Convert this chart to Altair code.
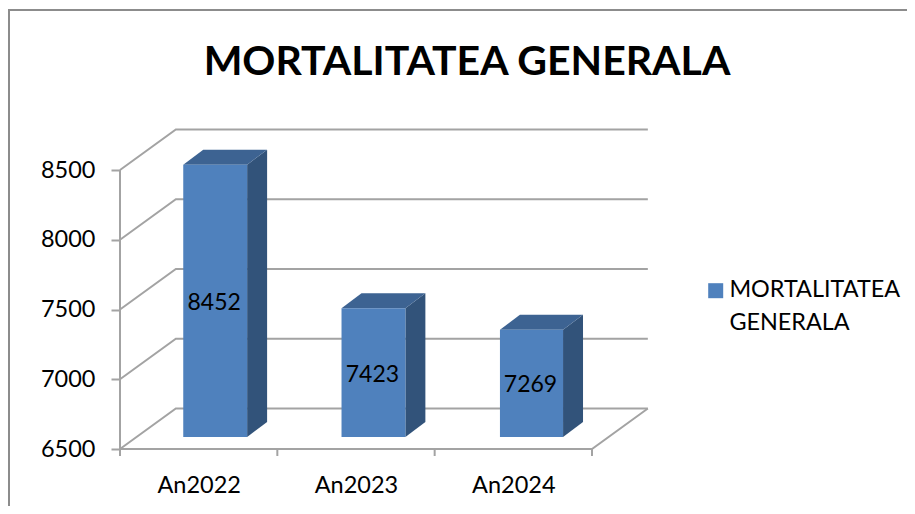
import altair as alt
import pandas as pd

categories = ["An2022", "An2023", "An2024"]
values = [8452, 7423, 7269]
series_name = "MORTALITATEA GENERALA"
y_ticks = [6500, 7000, 7500, 8000, 8500]
x_ticks = [0, 1, 2, 3]

# oblique-projection depth, in axis units
WALL_DX, WALL_DY = 0.355, 290
BAR_DX, BAR_DY = 0.127, 108
BAR_BASE = 86            # front face of the bars sits this far above the floor line
BAR_L, BAR_R = [0.402, 1.408, 2.415], [0.808, 1.814, 2.816]

GREY = "#A3A3A3"
FRONT, TOP, SIDE = "#4F81BD", "#3D6392", "#32537A"
FONT = "Lato"
LEGEND_DY = -12

xs = alt.Scale(domain=[0, 3.356], nice=False, zero=False)
ys = alt.Scale(domain=[6500, 8794], nice=False, zero=False)

# wall and floor lines
lines = []
for v in y_ticks:
    lines += [dict(g=f"w{v}", c=0, v=v, o=0), dict(g=f"w{v}", c=WALL_DX, v=v + WALL_DY, o=1),
              dict(g=f"w{v}", c=3 + WALL_DX, v=v + WALL_DY, o=2)]
lines += [dict(g="floor", c=0, v=6500, o=0), dict(g="floor", c=3, v=6500, o=1),
          dict(g="floor", c=3 + WALL_DX, v=6500 + WALL_DY, o=2)]
lines += [dict(g="yaxis", c=0, v=6500, o=0), dict(g="yaxis", c=0, v=8500, o=1)]
for t in x_ticks:
    lines += [dict(g=f"t{t}", c=t, v=6500, o=0), dict(g=f"t{t}", c=t, v=6450, o=1)]
frame = [dict(g="frame", c=5.06, v=9647, o=0), dict(g="frame", c=-0.7055, v=9647, o=1),
         dict(g="frame", c=-0.7055, v=6030, o=2)]

grid = alt.Chart(pd.DataFrame(lines)).mark_line(color=GREY, strokeWidth=2, clip=False).encode(
    x=alt.X("c:Q", scale=xs, title=None,
            axis=alt.Axis(values=[0.5, 1.5, 2.5], grid=False, domain=False, ticks=False,
                          labelExpr=f"{categories}[floor(datum.value)]", labelFont=FONT,
                          labelFontSize=23.5, labelColor="#000000",
                          labelPadding=24 - LEGEND_DY)),
    y=alt.Y("v:Q", scale=ys, title=None,
            axis=alt.Axis(values=y_ticks, format="d", grid=False, domain=False, tickColor=GREY,
                          tickWidth=2, tickSize=9, labelFont=FONT, labelFontSize=23.5,
                          labelColor="#000000", labelPadding=16, labelOffset=-LEGEND_DY)),
    detail="g:N", order="o:Q")

frame_line = alt.Chart(pd.DataFrame(frame)).mark_line(color="#8C8C8C", strokeWidth=2, clip=False).encode(
    x=alt.X("c:Q", scale=xs), y=alt.Y("v:Q", scale=ys), detail="g:N", order="o:Q")

rows, side, top = [], [], []
for cat, val, l, r in zip(categories, values, BAR_L, BAR_R):
    t = val + BAR_BASE
    rows.append(dict(cat=cat, val=val, l=l, r=r, t=t, b=6500 + BAR_BASE, mid=(l + r) / 2,
                     m=(t + 6500 + BAR_BASE) / 2, series=series_name))
    side += [dict(cat=cat, c=r, lo=6500 + BAR_BASE, hi=t),
             dict(cat=cat, c=r + BAR_DX, lo=6500 + BAR_BASE + BAR_DY, hi=t + BAR_DY)]
    top += [dict(cat=cat, c=l, lo=t, hi=t),
            dict(cat=cat, c=l + BAR_DX, lo=t, hi=t + BAR_DY),
            dict(cat=cat, c=r, lo=t, hi=t + BAR_DY),
            dict(cat=cat, c=r + BAR_DX, lo=t + BAR_DY, hi=t + BAR_DY)]

side_l = alt.Chart(pd.DataFrame(side)).mark_area(color=SIDE, clip=False).encode(
    x=alt.X("c:Q", scale=xs), y=alt.Y("lo:Q", scale=ys), y2="hi:Q", detail="cat:N")
top_l = alt.Chart(pd.DataFrame(top)).mark_area(color=TOP, clip=False).encode(
    x=alt.X("c:Q", scale=xs), y=alt.Y("lo:Q", scale=ys), y2="hi:Q", detail="cat:N")

df = pd.DataFrame(rows)
front = alt.Chart(df).mark_rect(clip=False).encode(
    x=alt.X("l:Q", scale=xs), x2="r:Q", y=alt.Y("b:Q", scale=ys), y2="t:Q",
    color=alt.Color("series:N", scale=alt.Scale(domain=[series_name], range=[FRONT]), title=None,
                    legend=alt.Legend(orient="none", legendX=584, legendY=150, symbolType="square",
                                      symbolSize=225, symbolStrokeWidth=0, labelFont=FONT,
                                      labelFontSize=23.4, labelColor="#000000", labelLimit=300,
                                      labelOffset=2,
                                      labelExpr="['MORTALITATEA', 'GENERALA']",
                                      labelBaseline="top")))
labels = alt.Chart(df).mark_text(font=FONT, fontSize=23, color="#000000", dx=-1, dy=2).encode(
    x=alt.X("mid:Q", scale=xs), y=alt.Y("m:Q", scale=ys), text="val:Q")

chart = alt.layer(grid, frame_line, side_l, top_l, front, labels).properties(
    width=528, height=320,
    padding={"left": 112, "top": 121, "right": 259, "bottom": 57},
    autosize=alt.AutoSizeParams(type="none"),
    title=alt.TitleParams("MORTALITATEA GENERALA", font=FONT, fontSize=41, fontWeight="bold",
                          color="#000000", anchor="middle", dx=83, offset=-78),
).configure_view(stroke=None)
chart.config.style = {"guide-label": {"lineHeight": 33, "dy": LEGEND_DY}}

chart.save("out.html", embed_options={"renderer": "svg", "actions": False})
